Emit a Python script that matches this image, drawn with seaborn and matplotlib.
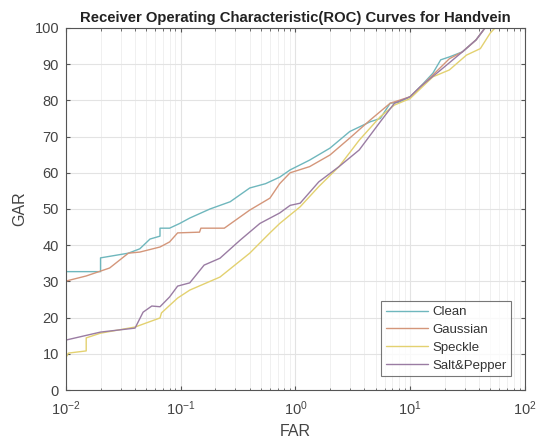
import numpy as np
import pandas as pd
import matplotlib
matplotlib.use("Agg")
import matplotlib.pyplot as plt
import seaborn as sns
from matplotlib.ticker import LogLocator

# ROC curves (FAR in %, GAR in %)
clean_far = [0.01, 0.02, 0.02, 0.035, 0.044, 0.054, 0.066, 0.066, 0.08, 0.098, 0.12, 0.18, 0.27, 0.40, 0.55,
             0.73, 0.90, 1.33, 2.0, 2.98, 4.5, 5.5, 6.7, 8.0, 10, 12.3, 15.8, 18.5, 22, 28.6, 37.6, 45, 100]
clean_gar = [32.7, 32.7, 36.5, 37.8, 39.0, 41.7, 42.5, 44.7, 44.7, 46.0, 47.5, 50.0, 52.0, 55.8, 57.0,
             58.8, 60.8, 63.5, 66.8, 71.4, 74.1, 75.0, 79.2, 79.5, 81.0, 83.8, 87.5, 91.2, 92.0, 93.4, 96.7, 100, 100]

gauss_far = [0.01, 0.015, 0.024, 0.035, 0.044, 0.066, 0.08, 0.094, 0.146, 0.15, 0.24, 0.40, 0.60, 0.73,
             0.90, 1.33, 2.0, 2.98, 4.5, 6.7, 10, 15.8, 22, 28.6, 37.6, 45, 100]
gauss_gar = [30.1, 31.5, 33.7, 37.8, 38.1, 39.5, 40.9, 43.4, 43.6, 44.7, 44.7, 49.7, 53.0, 57.0,
             60.0, 61.7, 64.9, 69.6, 74.6, 79.2, 81.0, 87.0, 91.5, 93.4, 96.7, 100, 100]

speckle_far = [0.01, 0.0105, 0.015, 0.015, 0.02, 0.04, 0.066, 0.068, 0.094, 0.12, 0.22, 0.40, 0.60, 0.73,
               1.1, 1.6, 2.4, 3.6, 5.5, 7.3, 10, 15.8, 22, 31, 41, 50, 55, 100]
speckle_gar = [9.0, 10.2, 10.8, 14.4, 15.7, 17.4, 19.9, 21.3, 25.4, 27.6, 31.2, 37.8, 43.4, 46.0,
               50.6, 56.2, 61.7, 69.0, 75.5, 78.7, 80.5, 86.5, 88.4, 92.5, 94.3, 98.6, 100, 100]

salt_far = [0.01, 0.02, 0.04, 0.047, 0.056, 0.066, 0.08, 0.094, 0.12, 0.16, 0.22, 0.33, 0.49, 0.73,
            0.90, 1.1, 1.6, 2.4, 3.6, 5.5, 7.3, 10, 12.3, 18.5, 28.6, 37.6, 45, 100]
salt_gar = [13.8, 16.0, 17.1, 21.5, 23.2, 23.0, 25.7, 28.7, 29.6, 34.5, 36.4, 41.4, 46.0, 48.9,
            51.0, 51.6, 57.5, 61.7, 66.3, 74.1, 79.2, 81.0, 83.8, 88.4, 93.4, 96.7, 100, 100]

names = ["Clean", "Gaussian", "Speckle", "Salt&Pepper"]
colors = ["#6fb7bd", "#d4967a", "#e3d170", "#9a7ca3"]

frames = []
for name, far, gar in zip(names,
                          [clean_far, gauss_far, speckle_far, salt_far],
                          [clean_gar, gauss_gar, speckle_gar, salt_gar]):
    frames.append(pd.DataFrame({"FAR": far, "GAR": gar, "curve": name}))
df = pd.concat(frames, ignore_index=True)

sns.set_style("ticks")
plt.rcParams["font.family"] = ["Liberation Sans", "DejaVu Sans"]
plt.rcParams["mathtext.fontset"] = "custom"
plt.rcParams["mathtext.rm"] = "Liberation Sans"
plt.rcParams["mathtext.it"] = "Liberation Sans"

fig = plt.figure(figsize=(5.41, 4.41), dpi=100)
ax = fig.add_axes([0.122, 0.1156, 0.848, 0.821])

sns.lineplot(data=df, x="FAR", y="GAR", hue="curve", palette=colors, hue_order=names,
             estimator=None, sort=False, units="curve", lw=1.0, ax=ax)

ax.set_xscale("log")
ax.set_xlim(0.01, 100)
ax.set_ylim(0, 100)
ax.set_yticks(range(0, 101, 10))
ax.xaxis.set_minor_locator(LogLocator(base=10, subs=np.arange(2, 10)))

ax.grid(True, which="major", color="#e3e3e3", lw=0.8)
ax.grid(True, which="minor", axis="x", color="#eeeeee", lw=0.6)
ax.set_axisbelow(True)

for s in ax.spines.values():
    s.set_color("#555555")
    s.set_linewidth(0.8)
ax.tick_params(which="both", direction="in", top=True, right=True, colors="#555555",
               labelcolor="#444444", labelsize=10.5)
ax.tick_params(which="major", length=3)
ax.tick_params(which="minor", length=1.8)
ax.tick_params(axis="x", which="major", pad=7)
ax.tick_params(axis="y", which="major", pad=5)

ax.set_xlabel("FAR", fontsize=11.5, color="#444444", labelpad=4)
ax.set_ylabel("GAR", fontsize=11.5, color="#444444", labelpad=5)
ax.set_title("Receiver Operating Characteristic(ROC) Curves for Handvein",
             fontsize=10.7, fontweight="bold", color="#222222", pad=4)

leg = ax.legend(loc="lower right", frameon=True, fancybox=False, fontsize=9.5,
                borderaxespad=1.05, handlelength=3.2, labelspacing=0.42, borderpad=0.35,
                handletextpad=0.3)
leg.get_frame().set_edgecolor("#555555")
leg.get_frame().set_linewidth(0.8)
for t in leg.get_texts():
    t.set_color("#333333")

fig.savefig("out.png", dpi=100)
